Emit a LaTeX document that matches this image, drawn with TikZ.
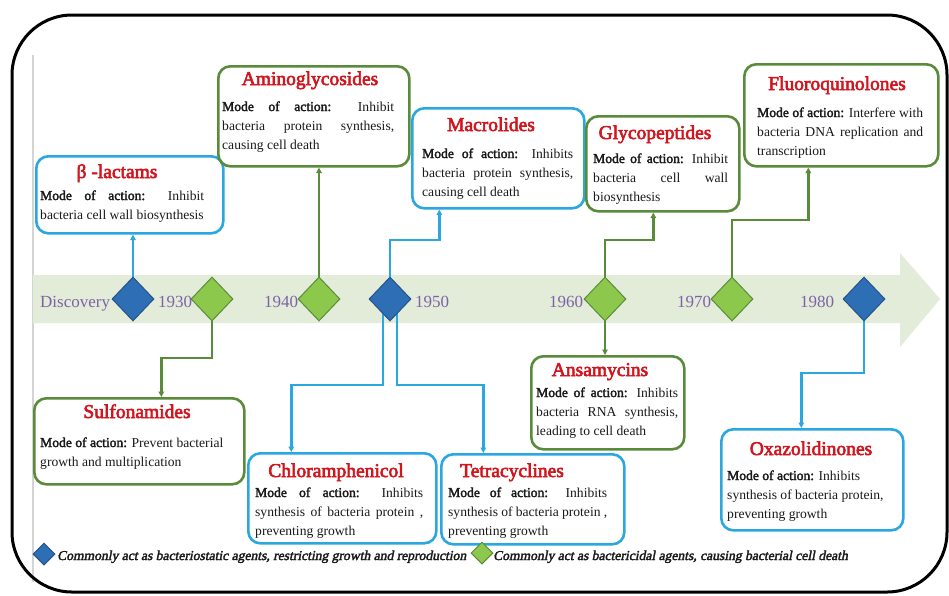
\documentclass[tikz,border=0pt]{standalone}
\usepackage{fontspec}
\setmainfont{Liberation Serif}[BoldFont={Liberation Serif},BoldFeatures={FakeBold=2.4},ItalicFont={Liberation Serif},ItalicFeatures={FakeSlant=0.2},BoldItalicFont={Liberation Serif},BoldItalicFeatures={FakeBold=2.4,FakeSlant=0.2}]
\newfontfamily\ttlfont{Liberation Serif}[FakeBold=3]
\usetikzlibrary{arrows.meta,shapes.geometric}
\definecolor{blueline}{HTML}{2AA7DE}
\definecolor{greenline}{HTML}{5A8B3A}
\definecolor{bluefill}{HTML}{2E6EB5}
\definecolor{bluedraw}{HTML}{24528A}
\definecolor{greenfill}{HTML}{8CC84B}
\definecolor{bandcol}{HTML}{E2ECD8}
\definecolor{titlered}{HTML}{D0161E}
\definecolor{yearpurple}{HTML}{7E62A8}
\definecolor{framegray}{HTML}{D4D4D4}
\definecolor{textdark}{HTML}{1A1A1A}
\begin{document}
\begin{tikzpicture}[x=1pt,y=-1pt,
  bbox/.style={draw=blueline,line width=2.6pt,rounded corners=12pt,anchor=north west,inner sep=0pt},
  gbox/.style={draw=greenline,line width=2.6pt,rounded corners=12pt,anchor=north west,inner sep=0pt},
  ttl/.style={font=\fontsize{19.5}{22}\ttlfont,text=titlered,anchor=base,inner sep=0pt},
  body/.style={font=\fontsize{13.6}{19}\selectfont,text=textdark,align=justify,anchor=base west,inner sep=0pt},
  year/.style={font=\fontsize{17}{20}\selectfont,text=yearpurple,anchor=base west,inner sep=0pt},
  bdiam/.style={diamond,aspect=1,fill=bluefill,draw=bluedraw,line width=1pt,minimum width=42pt,minimum height=44pt,inner sep=0pt},
  gdiam/.style={diamond,aspect=1,fill=greenfill,draw=greenline,line width=1pt,minimum width=42pt,minimum height=44pt,inner sep=0pt},
  bconn/.style={draw=blueline,line width=2.4pt,-{Triangle[length=5.5pt,width=5.5pt]}},
  gconn/.style={draw=greenline,line width=2.4pt,-{Triangle[length=5.5pt,width=5.5pt]}},
  leg/.style={font=\fontsize{13.6}{16}\selectfont\bfseries\itshape,text=textdark,anchor=base west,inner sep=0pt}
]
\useasboundingbox (0,0) rectangle (949,595);
\fill[white] (0,0) rectangle (949,595);
% frame
\draw[framegray,line width=1.2pt] (33,55) -- (33,582);
\draw[black,line width=3pt,rounded corners=60pt] (12,15) rectangle (947,592);
% band arrow
\fill[bandcol] (33,275) -- (900,275) -- (900,253) -- (940,299) -- (900,347) -- (900,323) -- (33,323) -- cycle;

% boxes
\node[bbox,minimum width=187pt,minimum height=77pt] (blt) at (35,155) {};
\node[gbox,minimum width=191pt,minimum height=100pt] (amino) at (217,65) {};
\node[bbox,minimum width=172pt,minimum height=100pt] (mac) at (411,107) {};
\node[gbox,minimum width=153pt,minimum height=95pt] (gly) at (585,115) {};
\node[gbox,minimum width=194pt,minimum height=102pt] (flu) at (743,63) {};
\node[gbox,minimum width=210pt,minimum height=86pt] (sulf) at (33,397) {};
\node[bbox,minimum width=188pt,minimum height=90pt] (chl) at (247,452) {};
\node[bbox,minimum width=183pt,minimum height=90pt] (tet) at (440,453) {};
\node[gbox,minimum width=153pt,minimum height=93pt] (ansa) at (530,355) {};
\node[bbox,minimum width=182pt,minimum height=101pt] (oxa) at (720,428) {};

% diamonds (positions)
\coordinate (p0) at (133,299);
\coordinate (p1) at (212,299);
\coordinate (p2) at (319,299);
\coordinate (p3) at (390,299);
\coordinate (p4) at (605,299);
\coordinate (p5) at (732,299);
\coordinate (p6) at (864,299);

% connectors (drawn below diamonds)
\draw[bconn] (p0) -- (p0 |- blt.south);
\draw[gconn] (p1) -- ++(0,59) -| ([xshift=22pt]sulf.north);
\draw[gconn] (p2) -- (p2 |- amino.south);
\draw[bconn] (p3) -- ++(0,-59) -| ([xshift=-59pt]mac.south);
\draw[bconn] ([xshift=-7pt]p3) -- ++(0,86) -| ([xshift=-51pt]chl.north);
\draw[bconn] ([xshift=7pt]p3) -- ++(0,86) -| ([xshift=-49.5pt]tet.north);
\draw[gconn] (p4) -- ++(0,-59) -| ([xshift=-9.5pt]gly.south);
\draw[gconn] (p4) -- (p4 |- ansa.north);
\draw[gconn] (p5) -- ++(0,-79) -| ([xshift=-33pt]flu.south);
\draw[bconn] (p6) -- ++(0,74) -| ([xshift=-11pt]oxa.north);

\node[bdiam] (d0) at (p0) {};
\node[gdiam] (d1) at (p1) {};
\node[gdiam] (d2) at (p2) {};
\node[bdiam] (d3) at (p3) {};
\node[gdiam] (d4) at (p4) {};
\node[gdiam] (d5) at (p5) {};
\node[bdiam] (d6) at (p6) {};

% year labels
\node[year] (y0) at (40,307) {Discovery};
\node[year] (y1) at (158,307) {1930};
\node[year] (y2) at (264,307) {1940};
\node[year] (y3) at (415,307) {1950};
\node[year] (y4) at (549,307) {1960};
\node[year] (y5) at (677,307) {1970};
\node[year] (y6) at (800,307) {1980};

% titles
\node[ttl] (blt-t) at (117,178) {β -lactams};
\node[ttl] (amino-t) at (310,85) {Aminoglycosides};
\node[ttl] (mac-t) at (491,131) {Macrolides};
\node[ttl] (gly-t) at (655,139) {Glycopeptides};
\node[ttl] (flu-t) at (837,90) {Fluoroquinolones};
\node[ttl] (sulf-t) at (137,418) {Sulfonamides};
\node[ttl] (chl-t) at (336,477) {Chloramphenicol};
\node[ttl] (tet-t) at (512,477) {Tetracyclines};
\node[ttl] (ansa-t) at (600,376) {Ansamycins};
\node[ttl] (oxa-t) at (811,455) {Oxazolidinones};

% body texts
\node[body,text width=164pt] (blt-b) at (40,200) {\textbf{Mode of action:} Inhibit\linebreak bacteria cell wall biosynthesis};
\node[body,text width=172pt] (amino-b) at (222,111) {\textbf{Mode of action:} Inhibit\linebreak bacteria protein synthesis,\linebreak causing cell death};
\node[body,text width=151pt] (mac-b) at (422,158) {\textbf{Mode of action:} Inhibits\linebreak bacteria protein synthesis,\linebreak causing cell death};
\node[body,text width=135pt] (gly-b) at (593,163) {\textbf{Mode of action:} Inhibit\linebreak bacteria cell wall\linebreak biosynthesis};
\node[body,text width=166pt] (flu-b) at (757,117) {\textbf{Mode of action:} Interfere with\linebreak bacteria DNA replication and\linebreak transcription};
\node[body,text width=192pt] (sulf-b) at (40,447) {\textbf{Mode of action:} Prevent bacterial\newline growth and multiplication};
\node[body,text width=168pt] (chl-b) at (255,497) {\textbf{Mode of action:} Inhibits\linebreak synthesis of bacteria protein ,\linebreak preventing growth};
\node[body,text width=159pt] (tet-b) at (448,497) {\textbf{Mode of action:} Inhibits\linebreak synthesis of bacteria protein ,\linebreak preventing growth};
\node[body,text width=142pt] (ansa-b) at (536,397) {\textbf{Mode of action:} Inhibits\linebreak bacteria RNA synthesis,\linebreak leading to cell death};
\node[body,text width=165pt] (oxa-b) at (727,480) {\textbf{Mode of action:} Inhibits\newline synthesis of bacteria protein,\newline preventing growth};

% legend
\node[bdiam,minimum width=22pt,minimum height=22pt] (lb) at (44,554) {};
\node[leg] (lb-t) at (57,560) {Commonly act as bacteriostatic agents, restricting growth and reproduction};
\node[gdiam,minimum width=22pt,minimum height=22pt] (lg) at (482,553) {};
\node[leg] (lg-t) at (493,560) {Commonly act as bactericidal agents, causing bacterial cell death};
\end{tikzpicture}
\end{document}
